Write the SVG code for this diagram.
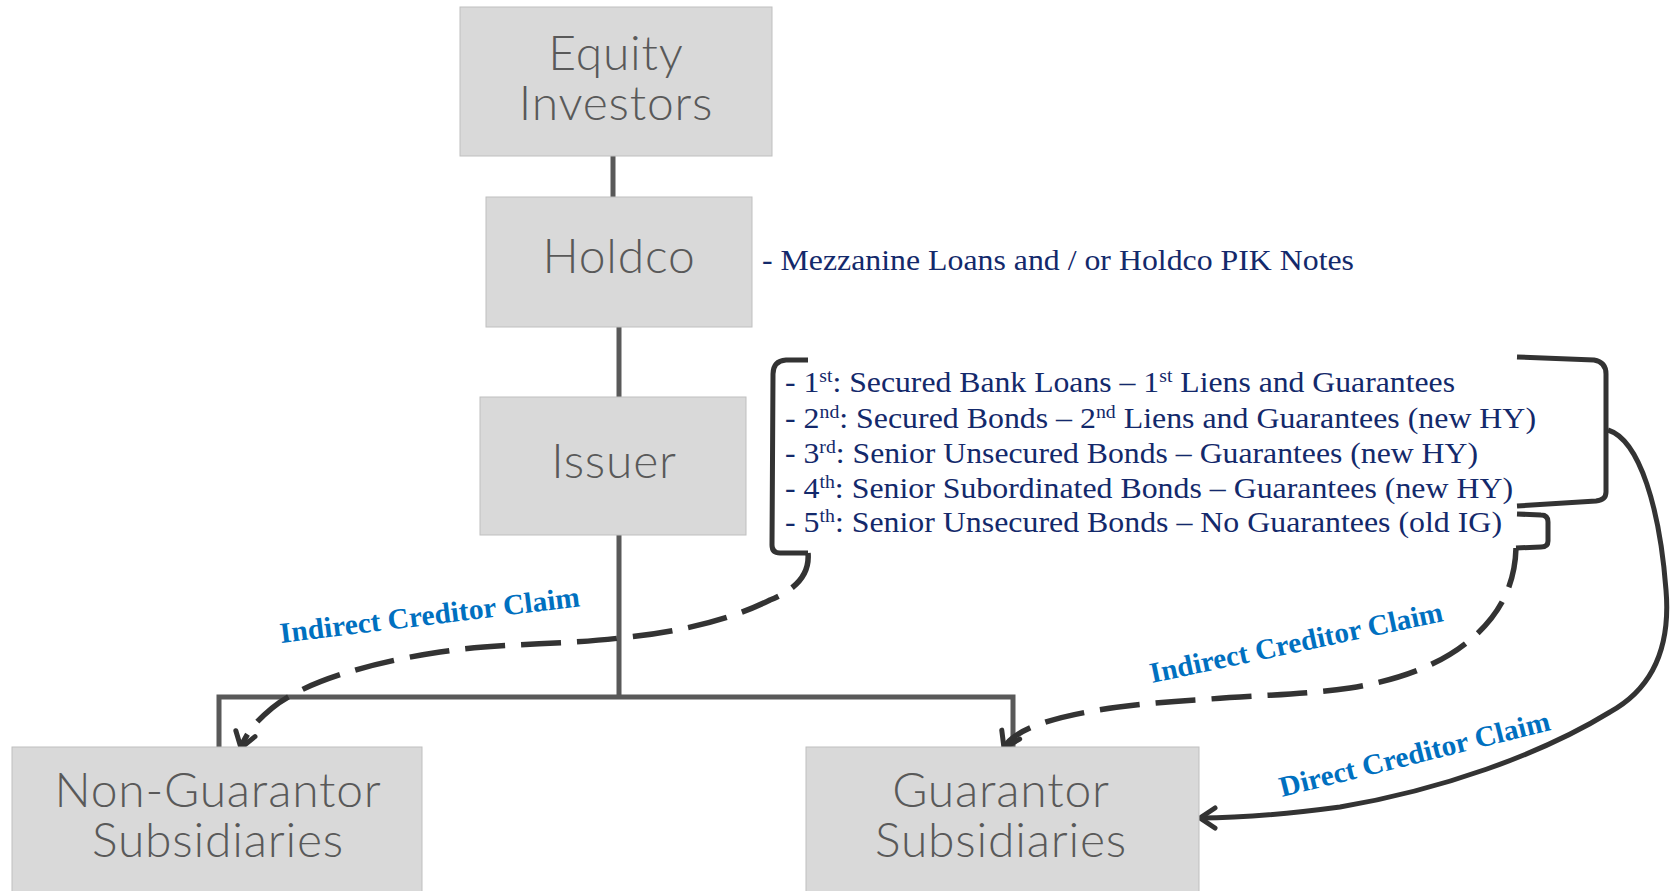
<svg xmlns="http://www.w3.org/2000/svg" width="1670" height="891" viewBox="0 0 1670 891">
<style>
.box{fill:#D9D9D9;stroke:#BFBFBF;stroke-width:1}
.bt{font-family:Lato,"Open Sans",sans-serif;font-weight:300;font-size:48px;letter-spacing:0.8px;fill:#595959;text-anchor:middle}
.tree{stroke:#595959;stroke-width:5;fill:none}
.br{stroke:#333333;stroke-width:5;fill:none;stroke-linejoin:round;stroke-linecap:butt}
.dash{stroke:#333333;stroke-width:5.5;fill:none;stroke-dasharray:40 16}
.nv{font-family:"Liberation Serif","Times New Roman",serif;font-size:29px;fill:#13296B}
.lb{font-family:"Liberation Serif","Times New Roman",serif;font-weight:bold;font-size:29px;fill:#0070C0}
</style>
<defs>
<marker id="ah" markerUnits="userSpaceOnUse" markerWidth="40" markerHeight="40" viewBox="-20 -20 40 40" refX="0" refY="0" orient="auto">
<path d="M -15 -10 L 0 0 L -15 10" fill="none" stroke="#333333" stroke-width="5" stroke-linecap="round" stroke-linejoin="miter"/>
</marker>
</defs>
<rect width="1670" height="891" fill="#FFFFFF"/>
<g id="connectors">
<line class="tree" x1="613" y1="156" x2="613" y2="197"/>
<line class="tree" x1="619" y1="327" x2="619" y2="397"/>
<line class="tree" x1="619" y1="535" x2="619" y2="697"/>
<polyline class="tree" points="219,747 219,697 1013,697 1013,747"/>
<path class="br" d="M 808 360 L 786 360 Q 773 361 773 374 L 772 545 Q 772 553 780 553 L 808 553"/>
<path class="br" d="M 1517 357 L 1594 360 Q 1606 362 1606 374 L 1606 492 Q 1606 500 1596 501 L 1517 506"/>
<path class="br" d="M 1517 514 L 1541 515 Q 1548 515 1548 522 L 1548 541 Q 1548 547 1541 547 L 1516 548"/>
<path class="dash" marker-end="url(#ah)" d="M 808 553 C 810 575 795 590 770 600 C 730 620 680 632 620 638 C 560 645 500 643 440 652 C 360 664 300 685 272 708 C 255 722 245 735 241 748"/>
<path class="dash" marker-end="url(#ah)" d="M 1516 548 C 1515 585 1500 615 1470 640 C 1440 665 1400 680 1350 688 C 1300 695 1260 695 1210 699 C 1140 703 1080 710 1040 724 C 1020 731 1008 740 1004 748"/>
<path class="br" marker-end="url(#ah)" d="M 1608 430 C 1640 440 1660 510 1666 590 C 1671 650 1650 690 1610 712 C 1540 755 1440 790 1340 807 C 1280 815 1230 818 1200 818"/>
</g>
<g id="equity">
<rect class="box" x="460" y="7" width="312" height="149"/>
<text class="bt" x="616" y="70">Equity</text>
<text class="bt" x="616" y="120">Investors</text>
</g>
<g id="holdco">
<rect class="box" x="486" y="197" width="266" height="130"/>
<text class="bt" x="619" y="273">Holdco</text>
</g>
<g id="issuer">
<rect class="box" x="480" y="397" width="266" height="138"/>
<text class="bt" x="614" y="478">Issuer</text>
</g>
<g id="nonguarantor">
<rect class="box" x="12" y="747" width="410" height="150"/>
<text class="bt" x="218" y="807">Non-Guarantor</text>
<text class="bt" x="218" y="857">Subsidiaries</text>
</g>
<g id="guarantor">
<rect class="box" x="806" y="747" width="393" height="150"/>
<text class="bt" x="1001" y="807">Guarantor</text>
<text class="bt" x="1001" y="857">Subsidiaries</text>
</g>
<g id="mezzanine">
<text class="nv" x="762" y="270" textLength="592" lengthAdjust="spacingAndGlyphs">- Mezzanine Loans and / or Holdco PIK Notes</text>
</g>
<g id="ranking">
<text class="nv" x="785" y="392" textLength="670" lengthAdjust="spacingAndGlyphs">- 1<tspan font-size="18" dy="-10">st</tspan><tspan dy="10">: Secured Bank Loans – 1</tspan><tspan font-size="18" dy="-10">st</tspan><tspan dy="10"> Liens and Guarantees</tspan></text>
<text class="nv" x="785" y="428" textLength="751" lengthAdjust="spacingAndGlyphs">- 2<tspan font-size="18" dy="-10">nd</tspan><tspan dy="10">: Secured Bonds – 2</tspan><tspan font-size="18" dy="-10">nd</tspan><tspan dy="10"> Liens and Guarantees (new HY)</tspan></text>
<text class="nv" x="785" y="463" textLength="693" lengthAdjust="spacingAndGlyphs">- 3<tspan font-size="18" dy="-10">rd</tspan><tspan dy="10">: Senior Unsecured Bonds – Guarantees (new HY)</tspan></text>
<text class="nv" x="785" y="498" textLength="728" lengthAdjust="spacingAndGlyphs">- 4<tspan font-size="18" dy="-10">th</tspan><tspan dy="10">: Senior Subordinated Bonds – Guarantees (new HY)</tspan></text>
<text class="nv" x="785" y="532" textLength="717" lengthAdjust="spacingAndGlyphs">- 5<tspan font-size="18" dy="-10">th</tspan><tspan dy="10">: Senior Unsecured Bonds – No Guarantees (old IG)</tspan></text>
</g>
<g id="labels">
<text class="lb" transform="translate(281 643) rotate(-7)" textLength="302" lengthAdjust="spacingAndGlyphs">Indirect Creditor Claim</text>
<text class="lb" transform="translate(1152 683) rotate(-12)" textLength="299" lengthAdjust="spacingAndGlyphs">Indirect Creditor Claim</text>
<text class="lb" transform="translate(1282 797) rotate(-14)" textLength="278" lengthAdjust="spacingAndGlyphs">Direct Creditor Claim</text>
</g>
</svg>
